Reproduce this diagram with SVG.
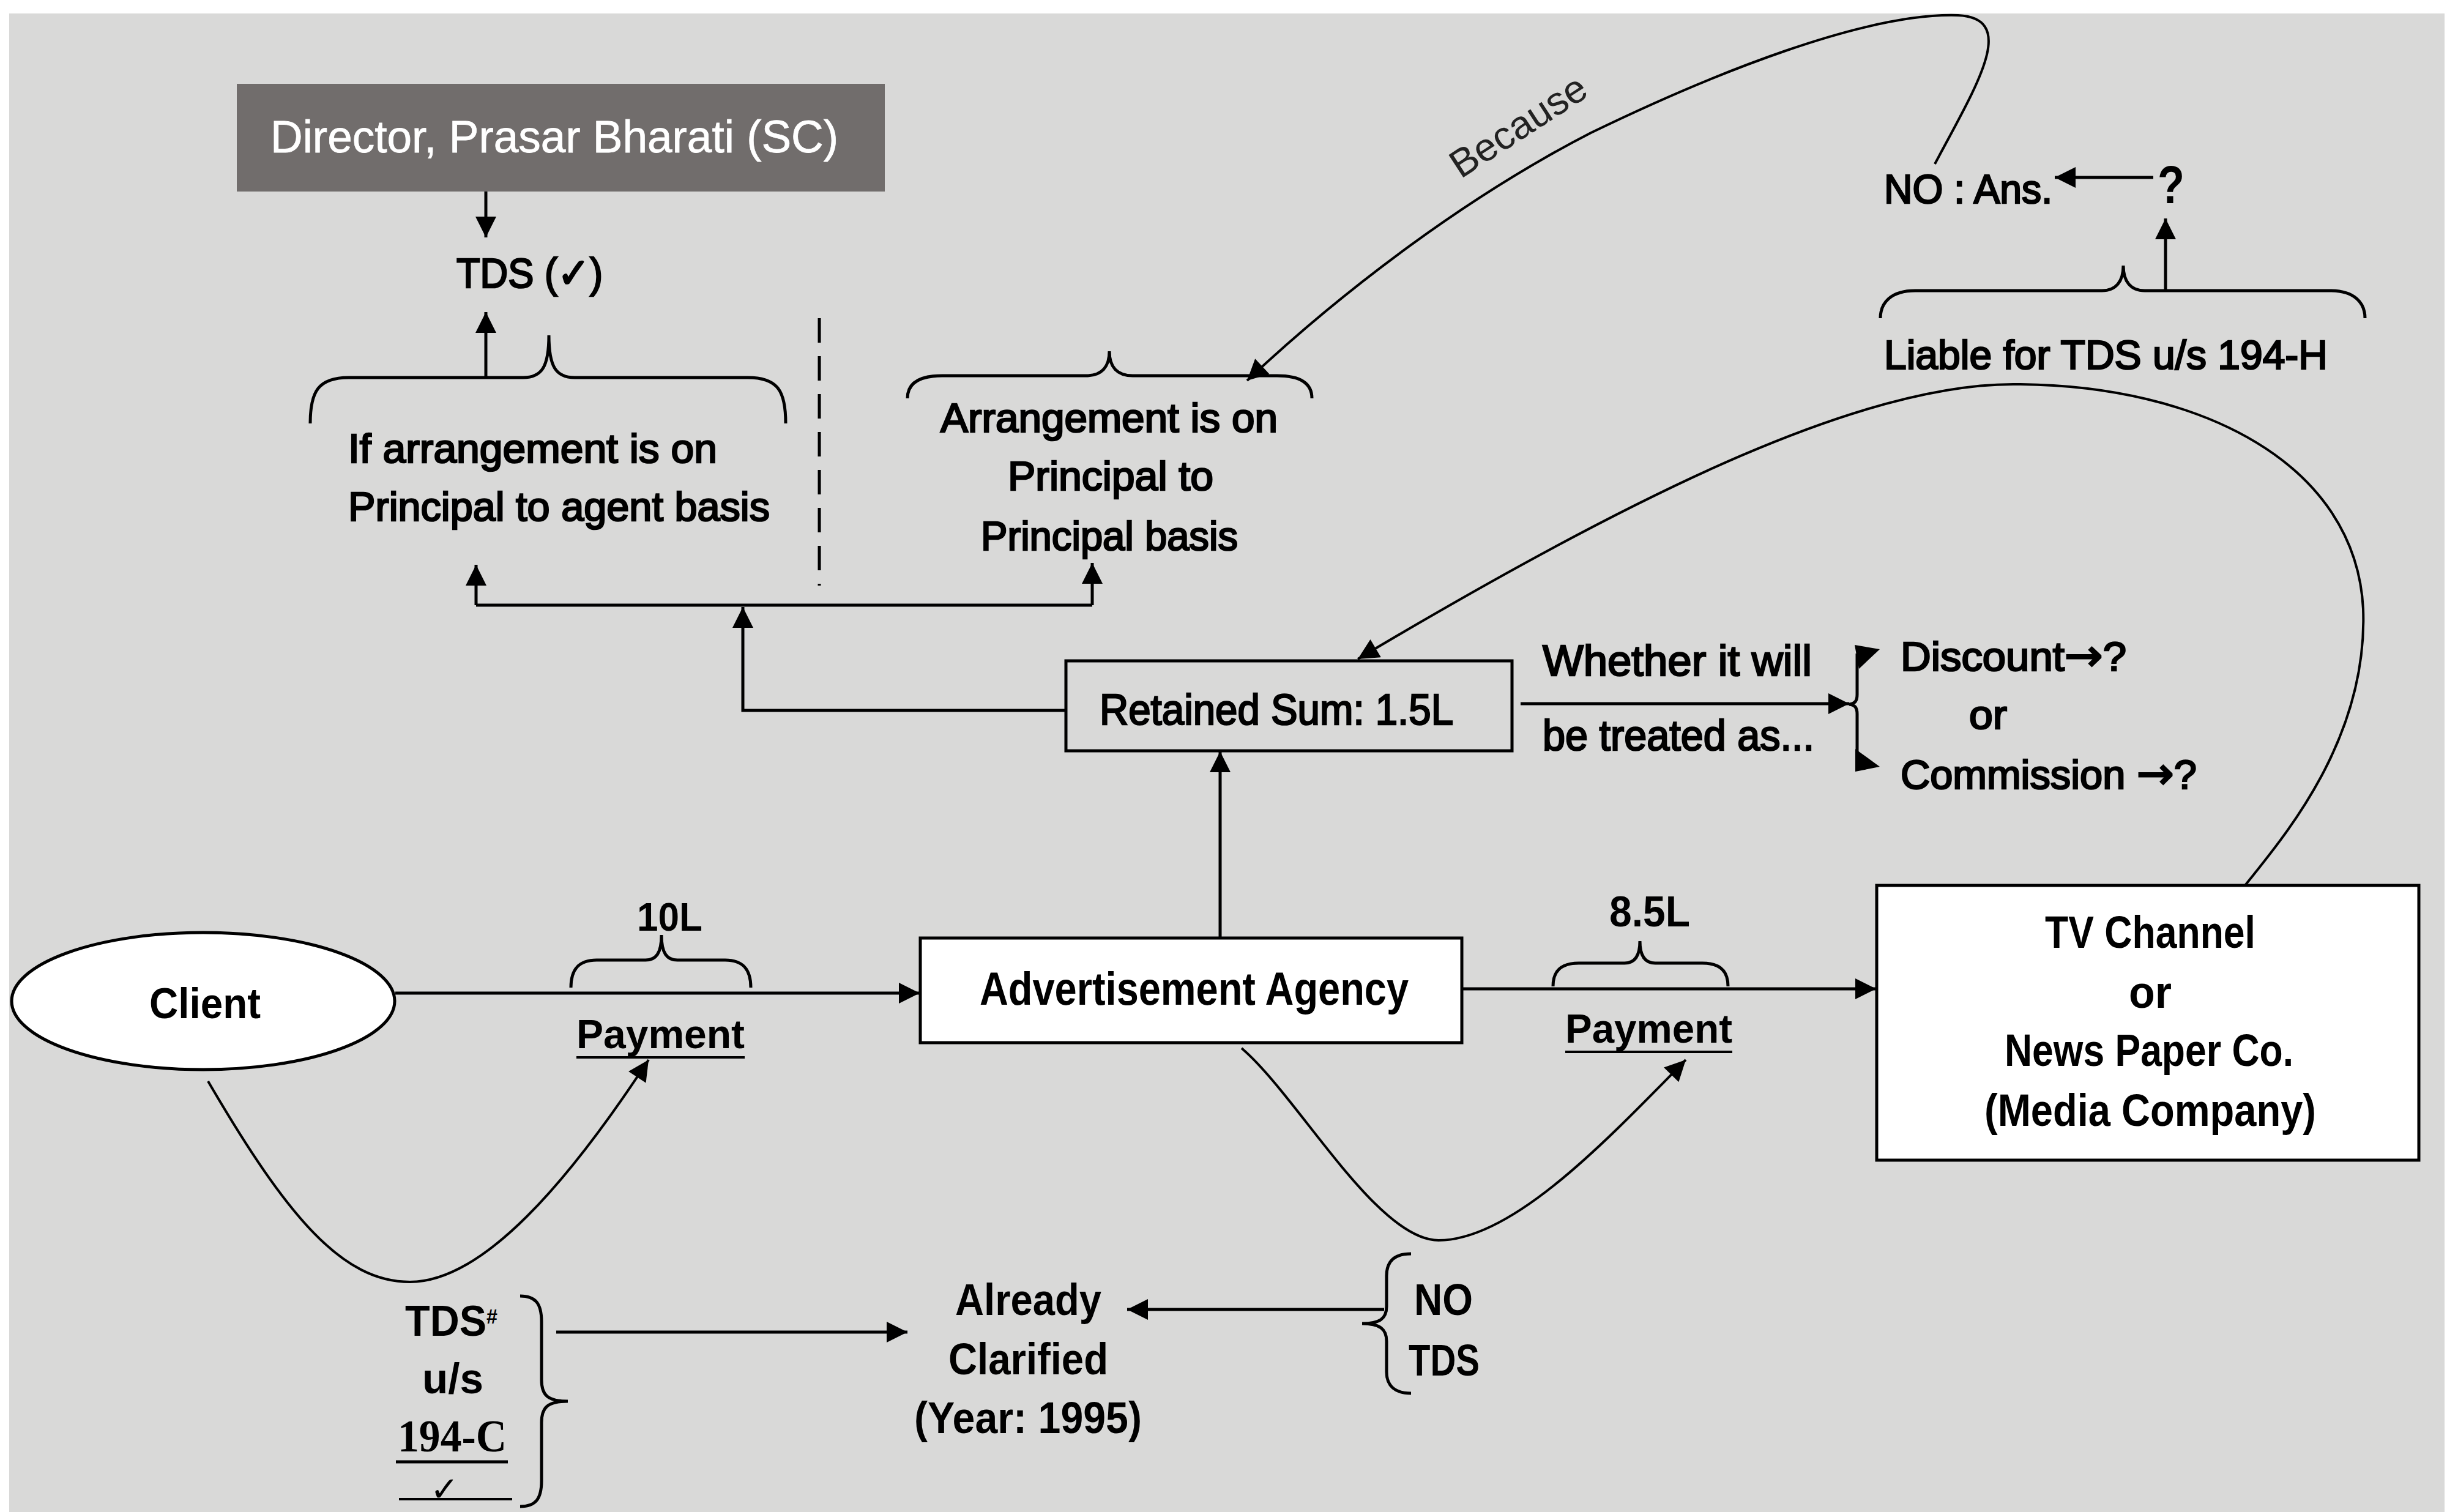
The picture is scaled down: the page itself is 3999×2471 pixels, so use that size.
<svg xmlns="http://www.w3.org/2000/svg" width="3999" height="2471" viewBox="0 0 3999 2471">
<defs>
<marker id="ah" viewBox="0 0 10 10" refX="10" refY="5" markerWidth="36" markerHeight="34" markerUnits="userSpaceOnUse" orient="auto"><path d="M0,0 L10,5 L0,10 z" fill="#000"/></marker>
<style>
text{font-family:"Liberation Sans",Arial,sans-serif;fill:#000;}
.m{font-weight:normal;stroke:#000;stroke-width:2.6px;}
.b{font-weight:bold;}
.arw{font-family:"DejaVu Sans",sans-serif;}
.ln{fill:none;stroke:#000;stroke-width:5;}
.ar{fill:none;stroke:#000;stroke-width:5;marker-end:url(#ah);}
.cv{fill:none;stroke:#000;stroke-width:4;}
.br{fill:none;stroke:#000;stroke-width:5;}
.box{stroke:#000;stroke-width:5;}
</style>
</defs>
<rect x="0" y="0" width="3999" height="2471" fill="#ffffff"/>
<rect x="15" y="22" width="3980" height="2449" fill="#d9d9d8"/>

<g id="director">
<rect x="387" y="137" width="1059" height="176" fill="#716d6c"/>
<text x="442" y="249" font-size="75" textLength="928" lengthAdjust="spacingAndGlyphs" style="fill:#fff;stroke:#fff;stroke-width:0.8px">Director, Prasar Bharati (SC)</text>
</g>

<g id="tds-check">
<text class="m" x="746" y="470" font-size="68" textLength="239" lengthAdjust="spacingAndGlyphs">TDS (✓)</text>
</g>

<g id="p2a">
<path class="br" d="M507,692 C507,640 520,617 570,617 H855 C885,617 897,600 897,548 C897,600 909,617 939,617 H1222 C1272,617 1284,640 1284,692"/>
<text class="m" x="569" y="756" font-size="67" textLength="603" lengthAdjust="spacingAndGlyphs">If arrangement is on</text>
<text class="m" x="569" y="851" font-size="67" textLength="689" lengthAdjust="spacingAndGlyphs">Principal to agent basis</text>
</g>

<g id="divider">
<path d="M1339,520 V957" fill="none" stroke="#000" stroke-width="5" stroke-dasharray="40 22"/>
</g>

<g id="p2p">
<path class="br" d="M1483,651 C1483,628 1500,614 1540,614 H1775 C1800,614 1813,600 1813,574 C1813,600 1826,614 1851,614 H2087 C2127,614 2144,628 2144,651"/>
<text class="m" x="1537" y="706" font-size="66" textLength="551" lengthAdjust="spacingAndGlyphs">Arrangement is on</text>
<text class="m" x="1647" y="801" font-size="66" textLength="336" lengthAdjust="spacingAndGlyphs">Principal to</text>
<text class="m" x="1603" y="899" font-size="66" textLength="420" lengthAdjust="spacingAndGlyphs">Principal basis</text>
</g>

<g id="no-ans">
<text class="m" x="3079" y="332" font-size="67" textLength="275" lengthAdjust="spacingAndGlyphs">NO : Ans.</text>
<text class="b" x="3526" y="332" font-size="88" textLength="44" lengthAdjust="spacingAndGlyphs">?</text>
</g>

<g id="liable">
<path class="br" d="M3073,520 C3073,495 3090,475 3130,475 H3435 C3458,475 3470,460 3470,434 C3470,460 3482,475 3505,475 H3808 C3848,475 3865,495 3865,520"/>
<text class="m" x="3079" y="603" font-size="67" textLength="725" lengthAdjust="spacingAndGlyphs">Liable for TDS u/s 194-H</text>
</g>

<g id="retained">
<rect class="box" x="1742" y="1080" width="729" height="147" fill="none"/>
<text class="m" x="1797" y="1184" font-size="71" textLength="578" lengthAdjust="spacingAndGlyphs">Retained Sum: 1.5L</text>
</g>

<g id="whether">
<text class="m" x="2521" y="1104" font-size="71" textLength="440" lengthAdjust="spacingAndGlyphs">Whether it will</text>
<text class="m" x="2521" y="1226" font-size="71" textLength="444" lengthAdjust="spacingAndGlyphs">be treated as...</text>
</g>

<g id="options">
<text class="m" x="3106" y="1096" font-size="66" textLength="369" lengthAdjust="spacingAndGlyphs">Discount<tspan class="arw" font-size="72">→</tspan>?</text>
<text class="m" x="3218" y="1191" font-size="66" textLength="62" lengthAdjust="spacingAndGlyphs">or</text>
<text class="m" x="3106" y="1289" font-size="66" textLength="484" lengthAdjust="spacingAndGlyphs">Commission <tspan class="arw" font-size="72">→</tspan>?</text>
</g>

<g id="client">
<ellipse class="box" cx="332" cy="1636" rx="313" ry="112" fill="#fff"/>
<text class="b" x="244" y="1664" font-size="70" textLength="182" lengthAdjust="spacingAndGlyphs">Client</text>
</g>

<g id="pay1">
<path class="br" d="M933,1614 C933,1585 945,1569 975,1569 H1055 C1072,1569 1081,1558 1081,1528 C1081,1558 1090,1569 1107,1569 H1185 C1215,1569 1227,1585 1227,1614"/>
<text class="b" x="1041" y="1521" font-size="64" textLength="107" lengthAdjust="spacingAndGlyphs">10L</text>
<text class="b" x="942" y="1713" font-size="66" textLength="275" lengthAdjust="spacingAndGlyphs">Payment</text>
<path d="M942,1728 H1217" stroke="#000" stroke-width="4"/>
</g>

<g id="agency">
<rect class="box" x="1504" y="1533" width="885" height="171" fill="#fff"/>
<text class="b" x="1601" y="1642" font-size="76" textLength="701" lengthAdjust="spacingAndGlyphs">Advertisement Agency</text>
</g>

<g id="pay2">
<path class="br" d="M2538,1612 C2538,1588 2550,1574 2580,1574 H2655 C2672,1574 2680,1562 2680,1538 C2680,1562 2688,1574 2705,1574 H2782 C2812,1574 2824,1588 2824,1612"/>
<text class="b" x="2630" y="1514" font-size="70" textLength="132" lengthAdjust="spacingAndGlyphs">8.5L</text>
<text class="b" x="2558" y="1704" font-size="66" textLength="273" lengthAdjust="spacingAndGlyphs">Payment</text>
<path d="M2558,1719 H2831" stroke="#000" stroke-width="4"/>
</g>

<g id="media">
<rect class="box" x="3067" y="1447" width="886" height="449" fill="#fff"/>
<text class="b" x="3342" y="1549" font-size="74" textLength="344" lengthAdjust="spacingAndGlyphs">TV Channel</text>
<text class="b" x="3479" y="1647" font-size="74" textLength="70" lengthAdjust="spacingAndGlyphs">or</text>
<text class="b" x="3276" y="1742" font-size="74" textLength="472" lengthAdjust="spacingAndGlyphs">News Paper Co.</text>
<text class="b" x="3243" y="1840" font-size="74" textLength="542" lengthAdjust="spacingAndGlyphs">(Media Company)</text>
</g>

<g id="tds194c">
<text class="b" x="662" y="2183" font-size="70" textLength="151" lengthAdjust="spacingAndGlyphs">TDS<tspan font-size="34" baseline-shift="60%">#</tspan></text>
<text class="b" x="690" y="2277" font-size="70" textLength="100" lengthAdjust="spacingAndGlyphs">u/s</text>
<text class="b" x="650" y="2372" font-size="75" textLength="178" lengthAdjust="spacingAndGlyphs" style="font-family:'Liberation Serif',serif">194-C</text>
<path d="M647,2389 H830" stroke="#000" stroke-width="5"/>
<path d="M652,2450 H837" stroke="#000" stroke-width="4"/>
<text x="703" y="2453" font-size="56" style="font-family:'DejaVu Sans',sans-serif">✓</text>
<path class="br" d="M850,2118 C875,2118 885,2130 885,2160 V2255 C885,2280 895,2290 928,2290 C895,2290 885,2300 885,2325 V2420 C885,2450 875,2462 850,2462"/>
</g>

<g id="clarified">
<text class="b" x="1561" y="2149" font-size="72" textLength="239" lengthAdjust="spacingAndGlyphs">Already</text>
<text class="b" x="1550" y="2246" font-size="72" textLength="261" lengthAdjust="spacingAndGlyphs">Clarified</text>
<text class="b" x="1494" y="2342" font-size="72" textLength="372" lengthAdjust="spacingAndGlyphs">(Year: 1995)</text>
</g>

<g id="no-tds">
<path class="br" d="M2306,2049 C2280,2049 2266,2060 2266,2085 V2135 C2266,2155 2255,2163 2226,2163 C2255,2163 2266,2172 2266,2192 V2242 C2266,2265 2280,2277 2306,2277"/>
<text class="b" x="2311" y="2149" font-size="72" textLength="96" lengthAdjust="spacingAndGlyphs">NO</text>
<text class="b" x="2302" y="2248" font-size="72" textLength="116" lengthAdjust="spacingAndGlyphs">TDS</text>
</g>

<g id="connectors">
<path class="ar" d="M794,313 V388"/>
<path class="ar" d="M794,617 V510"/>
<path class="ln" d="M778,989 H1785"/>
<path class="ar" d="M778,989 V923"/>
<path class="ar" d="M1785,989 V920"/>
<path class="ar" d="M1742,1161 H1214 V992"/>
<path class="ar" d="M1994,1533 V1228"/>
<path class="ar" d="M646,1623 H1503"/>
<path class="ar" d="M2389,1616 H3066"/>
<path class="ar" d="M2485,1150 H3022"/>
<path class="br" d="M3022,1151 C3032,1150 3035,1145 3035,1135 V1068 M3022,1151 C3032,1152 3035,1157 3035,1167 V1245"/>
<path d="M3031,1054 L3072,1061 L3038,1093 z" fill="#000"/>
<path d="M3032,1224 L3072,1253 L3032,1261 z" fill="#000"/>
<path class="ar" d="M3519,290 H3358"/>
<path class="ar" d="M3539,475 V357"/>
<path class="ar" d="M909,2177 H1483"/>
<path class="ar" d="M2262,2140 H1842"/>
<path class="cv" d="M340,1767 C470,1990 560,2095 670,2095 C790,2095 930,1930 1060,1732" marker-end="url(#ah)"/>
<path class="cv" d="M2029,1713 C2120,1790 2250,2027 2351,2027 C2470,2027 2620,1870 2755,1732" marker-end="url(#ah)"/>
<path class="cv" d="M3669,1447 C3730,1370 3870,1210 3862,995 C3850,760 3600,628 3290,628 C3050,628 2700,790 2219,1077" marker-end="url(#ah)"/>
<path class="cv" d="M3162,268 C3230,140 3300,30 3200,25 C3050,20 2800,120 2600,217 C2400,320 2200,470 2038,622" marker-end="url(#ah)"/>
<text x="2387" y="293" font-size="64" textLength="253" lengthAdjust="spacingAndGlyphs" transform="rotate(-33 2387 293)" style="fill:#222">Because</text>
</g>
</svg>
